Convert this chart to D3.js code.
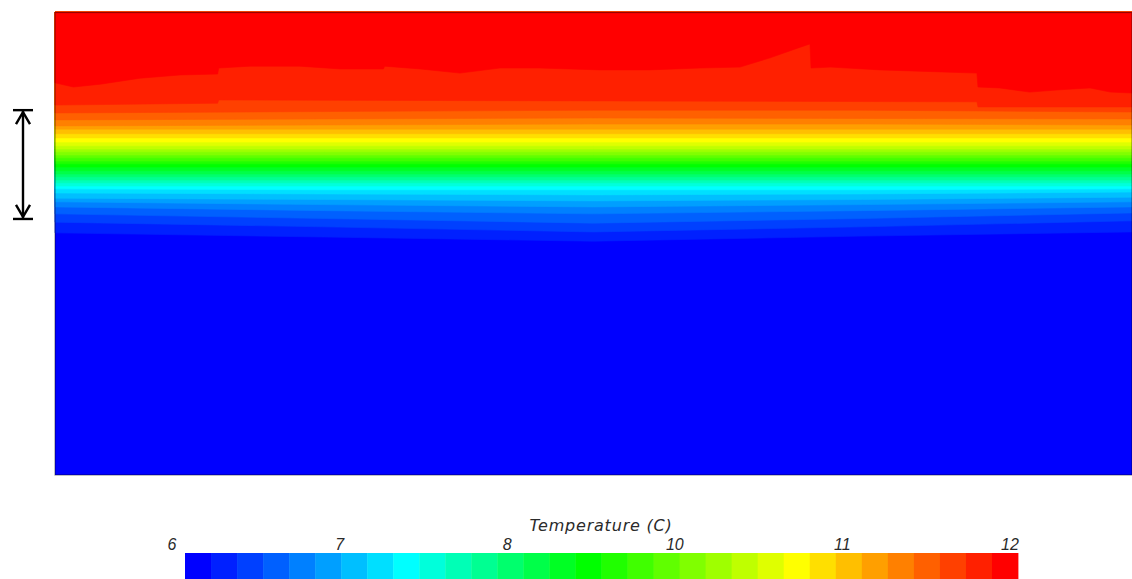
<!DOCTYPE html>
<html><head><meta charset="utf-8">
<script src="https://cdn.jsdelivr.net/npm/d3@7"></script>
<style>html,body{margin:0;padding:0;background:#fff;overflow:hidden}</style>
</head><body><svg id="chart" width="1132" height="579"></svg>
<script>
// ---------- data ----------
const tempMin = 6, tempMax = 12, binCount = 32;
const colorStopPositions = [0, 8/31, 15/31, 23/31, 1];
const colorStopColors = ["#0000ff", "#00ffff", "#00ff00", "#ffff00", "#ff0000"];
const tickLabels = ["6", "7", "8", "10", "11", "12"];
const legendTitle = "Temperature (C)";

// distance stations (km) for isotherm depths
const stationKm = [0, 25, 50, 75, 100];
// depth (m) of isotherm k (k = 1..29) at each station, coldest first
const isothermDepths = [
  [47.7, 48.6, 49.5, 48.4, 47.5],
  [45.4, 46.4, 47.5, 46.4, 45.1],
  [43.6, 44.6, 45.6, 44.6, 43.4],
  [42.1, 42.9, 43.6, 42.9, 42.1],
  [41.0, 41.6, 42.1, 41.6, 41.0],
  [40.2, 40.5, 40.8, 40.5, 40.0],
  [39.1, 39.3, 39.5, 39.3, 38.9],
  [38.2, 38.4, 38.4, 38.4, 38.2],
  [37.6, 37.6, 37.6, 37.6, 37.6],
  [36.9, 36.9, 36.9, 36.9, 36.9],
  [36.3, 36.3, 36.3, 36.3, 36.3],
  [35.6, 35.6, 35.6, 35.6, 35.6],
  [35.0, 35.0, 35.0, 35.0, 35.0],
  [34.3, 34.3, 34.3, 34.3, 34.3],
  [33.5, 33.5, 33.5, 33.5, 33.5],
  [32.8, 32.8, 32.8, 32.8, 32.8],
  [32.2, 32.2, 32.2, 32.2, 32.2],
  [31.5, 31.5, 31.5, 31.5, 31.5],
  [30.9, 30.9, 30.9, 30.9, 30.9],
  [30.2, 30.2, 30.2, 30.2, 30.2],
  [29.6, 29.6, 29.6, 29.6, 29.6],
  [28.9, 28.9, 28.9, 28.9, 28.9],
  [28.1, 28.1, 28.1, 28.1, 28.1],
  [27.2, 27.2, 27.2, 27.2, 27.2],
  [26.3, 26.3, 26.3, 26.3, 26.3],
  [25.3, 25.3, 25.3, 25.3, 25.3],
  [24.6, 24.4, 24.2, 24.2, 24.4],
  [23.3, 23.1, 22.9, 23.0, 23.1],
  [21.8, 21.5, 21.2, 21.2, 21.6]
];
// isotherm 30 (km, depth m)
const iso30Km    = [0, 15.1, 15.2, 50.6, 85.6, 85.7, 100];
const iso30Depth = [20.1, 19.7, 19.0, 19.2, 19.4, 20.5, 20.5];
// isotherm 31 (edge of the warmest layer)
const iso31Km = [0, 1.7, 4.2, 7.9, 11.6, 15.1, 15.2, 18.1, 22.7, 26.5, 30.5, 30.6, 33.9, 37.6, 41.3, 45.0,
  50.6, 55.2, 59.9, 63.6, 66.4, 69.2, 70.1, 70.2, 72.0, 76.6, 83.1, 85.6, 85.7, 87.7, 90.5, 93.3, 96.1, 98.0, 100];
const iso31Depth = [15.3, 16.2, 15.6, 14.3, 13.6, 13.4, 12.1, 11.7, 11.7, 12.3, 12.3, 11.7, 12.3, 13.2, 12.1, 12.1,
  12.5, 12.5, 12.1, 11.9, 9.9, 7.6, 6.9, 12.1, 11.9, 12.5, 13.0, 13.2, 16.2, 16.4, 17.3, 16.8, 16.4, 17.3, 17.5];
// thickness marker (depth m)
const markerDepths = [21.2, 44.7];

// ---------- layout ----------
const svg = d3.select("#chart");
const plot = {left: 55, right: 1132, top: 12, bottom: 475};
const x = d3.scaleLinear().domain([0, 100]).range([plot.left, plot.right]);
const y = d3.scaleLinear().domain([0, 100]).range([plot.top, plot.bottom]);

const colorT = d3.scaleLinear().domain(colorStopPositions).range(colorStopColors).interpolate(d3.interpolateRgb);
const binColor = i => colorT(i / (binCount - 1));

const isotherms = isothermDepths.map(row => row.map((d, j) => [stationKm[j], d]));
isotherms.push(iso30Km.map((k, j) => [k, iso30Depth[j]]));
isotherms.push(iso31Km.map((k, j) => [k, iso31Depth[j]]));

const g = svg.append("g");
g.append("rect").attr("x", x(0)).attr("y", y(0))
  .attr("width", x(100) - x(0)).attr("height", y(100) - y(0))
  .attr("fill", binColor(0));

const area = d3.area().x(d => x(d[0])).y0(y(0)).y1(d => y(d[1]));
g.selectAll("path.band").data(isotherms).join("path")
  .attr("class", "band")
  .attr("d", area)
  .attr("fill", (d, i) => binColor(i + 1))
  .attr("stroke", (d, i) => binColor(i + 1))
  .attr("stroke-width", 0.6);

g.append("rect").attr("x", x(0)).attr("y", y(0) + 0.5)
  .attr("width", x(100) - x(0)).attr("height", y(100) - y(0) - 0.5)
  .attr("fill", "none").attr("stroke", "rgba(0,0,0,0.4)").attr("stroke-width", 1.2);

// ---------- thickness marker ----------
const ax = 23, y1 = y(markerDepths[0]), y2 = y(markerDepths[1]);
const m = svg.append("g").attr("stroke", "#000").attr("stroke-width", 2.4).attr("fill", "none");
m.append("line").attr("x1", ax).attr("x2", ax).attr("y1", y1).attr("y2", y2);
m.append("line").attr("x1", ax - 10).attr("x2", ax + 10).attr("y1", y1).attr("y2", y1);
m.append("line").attr("x1", ax - 10).attr("x2", ax + 10).attr("y1", y2).attr("y2", y2);
m.append("path").attr("d", `M${ax-7},${y1+14}L${ax},${y1+2}L${ax+7},${y1+14}`);
m.append("path").attr("d", `M${ax-7},${y2-14}L${ax},${y2-2}L${ax+7},${y2-14}`);

// ---------- colour bar ----------
const cb = d3.scaleLinear().domain([tempMin, tempMax]).range([185, 1018]);
const step = (tempMax - tempMin) / binCount;
svg.append("g").selectAll("rect").data(d3.range(binCount)).join("rect")
  .attr("x", i => cb(tempMin + i * step))
  .attr("y", 553)
  .attr("width", cb(tempMin + step) - cb(tempMin) + 0.4)
  .attr("height", 30)
  .attr("fill", i => binColor(i));

const lab = d3.scalePoint().domain(tickLabels).range([cb(tempMin) - 13, cb(tempMax) - 8]);
svg.append("g").selectAll("text").data(tickLabels).join("text")
  .attr("x", d => lab(d)).attr("y", 550)
  .attr("text-anchor", "middle")
  .attr("font-family", "Liberation Sans")
  .attr("font-style", "italic")
  .attr("font-size", 16)
  .attr("fill", "#2a2a2a")
  .text(d => d);

svg.append("text").attr("x", 601).attr("y", 531)
  .attr("text-anchor", "middle")
  .attr("font-family", "DejaVu Sans")
  .attr("font-style", "italic")
  .attr("font-size", 16)
  .attr("letter-spacing", 0.8)
  .attr("fill", "#2a2a2a")
  .text(legendTitle);
</script></body></html>
